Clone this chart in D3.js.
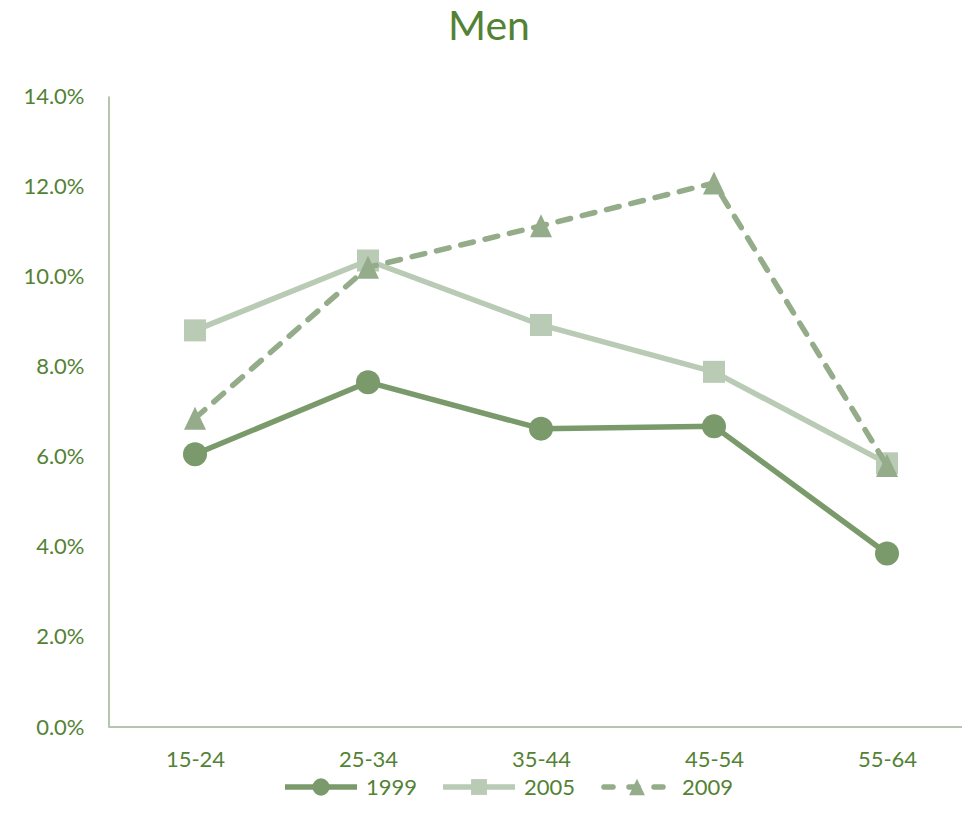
<!DOCTYPE html>
<html>
<head>
<meta charset="utf-8">
<script src="https://cdn.jsdelivr.net/npm/d3@7/dist/d3.min.js"></script>
<style>
  html, body { margin: 0; padding: 0; background: #fff; }
  svg text { font-family: Lato, "Open Sans", sans-serif; fill: #548235; }
</style>
</head>
<body>
<svg id="chart" width="962" height="829"></svg>
<script>
// Age groups along the x axis
const ageGroups = ["15-24", "25-34", "35-44", "45-54", "55-64"];
// Share of men per age group (percent), one list per survey year
const values1999 = [6.05, 7.65, 6.62, 6.67, 3.85];
const values2005 = [8.8, 10.35, 8.92, 7.88, 5.85];
const values2009 = [6.85, 10.2, 11.12, 12.07, 5.8];
const seriesNames = ["1999", "2005", "2009"];
const yTicks = [0, 2, 4, 6, 8, 10, 12, 14];

const series = [
  { name: seriesNames[0], values: values1999, color: "#7a9a6b", marker: "circle", dash: null },
  { name: seriesNames[1], values: values2005, color: "#b9cab5", marker: "square", dash: null },
  { name: seriesNames[2], values: values2009, color: "#94ac89", marker: "triangle", dash: "13 12" }
];

const svg = d3.select("#chart");
const plotLeft = 108.5, plotRight = 973.5, plotTop = 96, plotBottom = 727;

const x = d3.scalePoint().domain(ageGroups).range([plotLeft, plotRight]).padding(0.5);
const y = d3.scaleLinear().domain([0, 14]).range([plotBottom, plotTop]);

// Title
svg.append("text")
  .attr("x", 489).attr("y", 40)
  .attr("text-anchor", "middle")
  .style("font-size", "41px")
  .text("Men");

// Y axis
const yAxis = svg.append("g")
  .attr("transform", `translate(${plotLeft},0)`)
  .call(d3.axisLeft(y).tickValues(yTicks).tickSize(0).tickPadding(24)
    .tickFormat(d => d.toFixed(1) + "%"));
yAxis.select(".domain").attr("stroke", "#b5c6ae").attr("stroke-width", 2);
yAxis.selectAll("text").style("font-size", "22px");

// X axis
const xAxis = svg.append("g")
  .attr("transform", `translate(0,${plotBottom})`)
  .call(d3.axisBottom(x).tickSize(0).tickPadding(24));
xAxis.select(".domain").attr("stroke", "#b5c6ae").attr("stroke-width", 2)
  .attr("d", `M${plotLeft},0H${plotRight}`);
xAxis.selectAll("text").style("font-size", "22px");

const line = d3.line().x((d, i) => x(ageGroups[i])).y(d => y(d));

function drawMarker(g, kind, cx, cy, color, scale) {
  const s = scale || 1;
  if (kind === "circle") {
    g.append("circle").attr("cx", cx).attr("cy", cy).attr("r", 12 * s).attr("fill", color);
  } else if (kind === "square") {
    const h = 11 * s;
    g.append("rect").attr("x", cx - h).attr("y", cy - h).attr("width", 2 * h).attr("height", 2 * h).attr("fill", color);
  } else {
    const w = 11 * s, h = 11.5 * s;
    g.append("path").attr("d", `M${cx},${cy - h}L${cx + w},${cy + h}L${cx - w},${cy + h}Z`).attr("fill", color);
  }
}

series.forEach(s => {
  const g = svg.append("g");
  g.append("path")
    .attr("d", line(s.values))
    .attr("fill", "none")
    .attr("stroke", s.color)
    .attr("stroke-width", 5.5)
    .attr("stroke-linecap", s.dash ? "round" : "butt")
    .attr("stroke-linejoin", "round")
    .attr("stroke-dasharray", s.dash);
  s.values.forEach((v, i) => drawMarker(g, s.marker, x(ageGroups[i]), y(v), s.color));
});

// Legend
const legendX = [285, 443, 601];
const legendY = 787;
series.forEach((s, i) => {
  const g = svg.append("g");
  const x0 = legendX[i];
  g.append("line")
    .attr("x1", x0 + (s.dash ? 3 : 0)).attr("x2", x0 + 72 - (s.dash ? 3 : 0))
    .attr("y1", legendY).attr("y2", legendY)
    .attr("stroke", s.color).attr("stroke-width", 5.5)
    .attr("stroke-linecap", s.dash ? "round" : "butt")
    .attr("stroke-dasharray", s.dash ? "9 16" : null);
  drawMarker(g, s.marker, x0 + 36, legendY, s.color, 0.72);
  g.append("text")
    .attr("x", x0 + 81).attr("y", legendY + 8)
    .style("font-size", "22px")
    .text(s.name);
});
</script>
</body>
</html>
